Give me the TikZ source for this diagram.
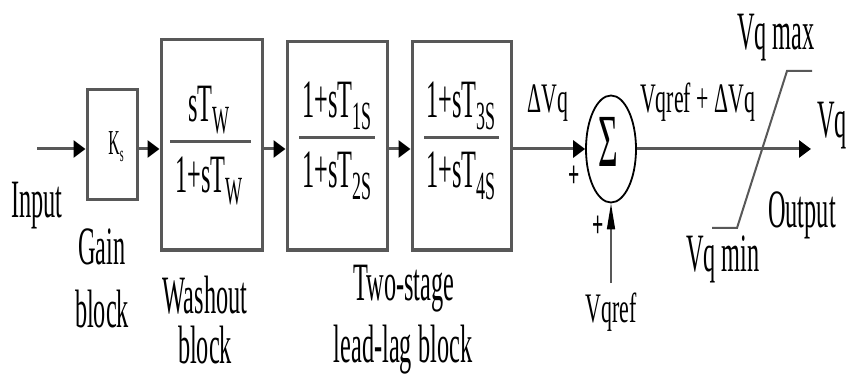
\documentclass[tikz,border=0pt]{standalone}
\usepackage{fontspec}
\setmainfont{Liberation Serif}[FakeStretch=0.45]
\newfontfamily\smf{Liberation Serif}[FakeStretch=0.52]
\usetikzlibrary{arrows.meta,shapes.geometric}
\definecolor{ln}{RGB}{88,88,88}
\newcommand\fbig{\fontsize{54pt}{60pt}\selectfont}
\newcommand\fsml{\smf\fontsize{42pt}{48pt}\selectfont}
\newcommand\sbs[1]{\raisebox{-12pt}{\fontsize{40pt}{44pt}\selectfont #1}}
\begin{document}
\begin{tikzpicture}[x=1pt,y=-1pt,
  blk/.style={draw=ln, line width=3pt, inner sep=0pt},
  lbl/.style={inner sep=0pt, anchor=base, font=\fbig},
  slbl/.style={inner sep=0pt, anchor=base, font=\fsml},
  conn/.style={draw=ln, line width=3pt, -{Triangle[length=12pt,width=17pt,color=black]}},
  fracline/.style={draw=ln, line width=3pt},
  pl/.style={inner sep=0pt, font=\smf\fontsize{38pt}{40pt}\selectfont\bfseries}]
\useasboundingbox (0,0) rectangle (846,374);
\coordinate (main) at (0,149);
\coordinate (inp) at (37,149);
\coordinate (outend) at (811,149);
\coordinate (vqs) at (611,283);
% blocks
\node[blk, minimum width=50pt, minimum height=110pt] (gain) at (112,145) {};
\node[blk, minimum width=101pt, minimum height=210pt] (wash) at (211.5,145) {};
\node[blk, minimum width=100pt, minimum height=208pt] (ll1) at (337,146) {};
\node[blk, minimum width=99pt, minimum height=208pt] (ll2) at (461.5,146) {};
\node[ellipse, draw=black, line width=1.8pt, minimum width=50pt, minimum height=107pt, inner sep=0pt] (sum) at (611,149) {};
% block contents
\node[inner sep=0pt, anchor=base, font=\fontsize{35pt}{40pt}\selectfont] (ks) at (116,155) {K\raisebox{-7pt}{\fontsize{22pt}{24pt}\selectfont s}};
\draw[fracline] (170,142) -- (251,142);
\node[lbl] (wnum) at (209,122) {sT\sbs{W}};
\node[lbl] (wden) at (209,193) {1+sT\sbs{W}};
\draw[fracline] (299,138) -- (375,138);
\node[lbl] (l1num) at (337,118) {1+sT\sbs{1S}};
\node[lbl] (l1den) at (337,188) {1+sT\sbs{2S}};
\draw[fracline] (424,138) -- (499,138);
\node[lbl] (l2num) at (461,118) {1+sT\sbs{3S}};
\node[lbl] (l2den) at (461,188) {1+sT\sbs{4S}};
\node[inner sep=0pt, anchor=base, font=\fontsize{75pt}{80pt}\selectfont] (sig) at (608,167) {Σ};
% connectors
\draw[conn] (inp) -- (gain.west |- main);
\draw[conn] (gain.east |- main) -- (wash.west |- main);
\draw[conn] (wash.east |- main) -- (ll1.west |- main);
\draw[conn] (ll1.east |- main) -- (ll2.west |- main);
\draw[conn] (ll2.east |- main) -- (sum.west);
\draw[conn] (sum.east) -- (outend);
\draw[draw=ln, line width=1.5pt, -{Triangle[length=26pt,width=8pt,color=black]}] (vqs) -- (sum.south);
% limiter
\draw[ln, line width=2pt] (712,228) -- (737,228) -- (787,71) -- (812,71);
% labels
\node[lbl] (tin) at (37,218) {Input};
\node[lbl] (tg1) at (102,265) {Gain};
\node[lbl] (tg2) at (102,327) {block};
\node[lbl] (tw1) at (205,313) {Washout};
\node[lbl] (tw2) at (205,363) {block};
\node[lbl] (tl1) at (404,300) {Two-stage};
\node[lbl] (tl2) at (403,362) {lead-lag block};
\node[slbl, anchor=base west] (tdv) at (527,113) {ΔVq};
\node[slbl, anchor=base west] (tsum) at (640,113) {Vqref + ΔVq};
\node[slbl] (tref) at (611,322) {Vqref};
\node[lbl] (tmax) at (776,50) {Vq max};
\node[lbl] (tmin) at (723,272) {Vq min};
\node[lbl] (tout) at (802,228) {Output};
\node[lbl, anchor=base west] (tvq) at (817,138) {Vq};
\node[pl] (p1) at (574,177) {+};
\node[pl] (p2) at (598,227) {+};
\end{tikzpicture}
\end{document}
